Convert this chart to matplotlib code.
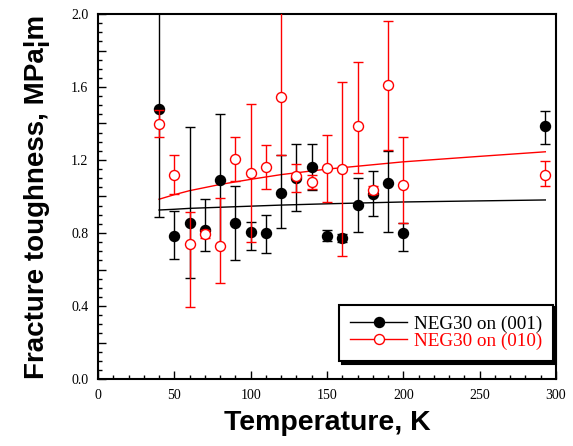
import matplotlib
matplotlib.use("Agg")
import matplotlib.pyplot as plt
from matplotlib.ticker import MultipleLocator, FuncFormatter

# ---- data ----
T_001 = [40, 50, 60, 70, 80, 90, 100, 110, 120, 130, 140, 150, 160, 170, 180, 190, 200, 293]
K_001 = [1.48, 0.785, 0.856, 0.815, 1.09, 0.857, 0.806, 0.798, 1.02, 1.10, 1.16, 0.785, 0.772,
         0.955, 1.014, 1.074, 0.80, 1.386]
K_001_lo = [0.59, 0.13, 0.30, 0.115, 0.36, 0.205, 0.10, 0.108, 0.19, 0.18, 0.125, 0.03, 0.02,
            0.148, 0.12, 0.27, 0.10, 0.10]
K_001_hi = [0.59, 0.137, 0.527, 0.17, 0.36, 0.20, 0.056, 0.10, 0.207, 0.19, 0.13, 0.03, 0.02,
            0.147, 0.126, 0.176, 0.053, 0.085]

T_010 = [40, 50, 60, 70, 80, 90, 100, 110, 120, 130, 140, 150, 160, 170, 180, 190, 200, 293]
K_010 = [1.40, 1.12, 0.741, 0.795, 0.73, 1.207, 1.127, 1.163, 1.545, 1.11, 1.077, 1.155, 1.15,
         1.385, 1.036, 1.61, 1.063, 1.118]
K_010_lo = [0.075, 0.108, 0.347, 0.02, 0.206, 0.12, 0.375, 0.12, 0.32, 0.084, 0.037, 0.185, 0.476,
            0.255, 0.02, 0.355, 0.21, 0.06]
K_010_hi = [0.075, 0.107, 0.175, 0.02, 0.26, 0.12, 0.38, 0.117, 0.6, 0.07, 0.043, 0.184, 0.48,
            0.352, 0.02, 0.353, 0.264, 0.078]

fit_T = [40, 50, 60, 80, 100, 120, 150, 200, 250, 293]
fit_001 = [0.926, 0.930, 0.935, 0.941, 0.947, 0.953, 0.960, 0.970, 0.976, 0.981]
fit_010 = [0.985, 1.010, 1.032, 1.066, 1.094, 1.12, 1.15, 1.19, 1.22, 1.245]

labels = ["NEG30 on (001)", "NEG30 on (010)"]
xlabel = "Temperature, K"
ylabel = "Fracture toughness, MPa\u00a6m"

# ---- figure ----
fig = plt.figure(figsize=(5.73, 4.46), dpi=100)
ax = fig.add_axes([98 / 573, 1 - 379 / 446, 458 / 573, 365 / 446])

serif = "Liberation Serif"
sans = "Liberation Sans"

ax.plot(fit_T, fit_001, color="black", lw=1.0, zorder=2)
ax.plot(fit_T, fit_010, color="red", lw=1.0, zorder=2)

ms = 7.2
ax.errorbar(T_001, K_001, yerr=[K_001_lo, K_001_hi], fmt="o", color="black",
            ecolor="black", elinewidth=1.0, capsize=3.6, capthick=1.0,
            markersize=ms, markerfacecolor="black", markeredgecolor="black", zorder=3)
ax.errorbar(T_010, K_010, yerr=[K_010_lo, K_010_hi], fmt="o", color="red",
            ecolor="red", elinewidth=1.0, capsize=3.6, capthick=1.0,
            markersize=ms, markerfacecolor="white", markeredgecolor="red",
            markeredgewidth=1.0, zorder=4)

# legend proxies
h1, = ax.plot([], [], color="black", lw=1.0, marker="o", markersize=ms,
              markerfacecolor="black", markeredgecolor="black")
h2, = ax.plot([], [], color="red", lw=1.0, marker="o", markersize=ms,
              markerfacecolor="white", markeredgecolor="red")
leg = ax.legend([h1, h2], labels, loc="lower right", bbox_to_anchor=(0.993, 0.05),
                borderaxespad=0, prop={"family": serif, "size": 13.8},
                frameon=True, fancybox=False, shadow={"color": "black", "alpha": 1},
                framealpha=1, edgecolor="black", handlelength=3.0, handletextpad=0.35,
                labelspacing=0.0, borderpad=0.55)
leg.get_frame().set_linewidth(1.5)
for txt, c in zip(leg.get_texts(), ["black", "red"]):
    txt.set_color(c)

ax.set_xlim(0, 300)
ax.set_ylim(0, 2.0)
ax.xaxis.set_major_locator(MultipleLocator(50))
ax.xaxis.set_minor_locator(MultipleLocator(10))
ax.yaxis.set_major_locator(MultipleLocator(0.2))
ax.yaxis.set_minor_locator(MultipleLocator(0.05))


def yfmt(v, pos):
    k = round(v / 0.2)
    return f"{v:.1f}" if k % 2 == 0 else ""


ax.yaxis.set_major_formatter(FuncFormatter(yfmt))
ax.xaxis.set_major_formatter(FuncFormatter(lambda v, p: f"{int(round(v))}"))

ax.tick_params(which="both", direction="in", top=False, right=False)
ax.tick_params(which="major", length=6, width=1.0, pad=7)
ax.tick_params(which="minor", length=3, width=1.0)
for lab in ax.get_xticklabels() + ax.get_yticklabels():
    lab.set_fontfamily(serif)
    lab.set_fontsize(10)

for s in ax.spines.values():
    s.set_linewidth(1.5)

ax.set_xlabel(xlabel, fontfamily=sans, fontweight="bold", fontsize=20.5, labelpad=6)
ax.set_ylabel(ylabel, fontfamily=sans, fontweight="bold", fontsize=20, labelpad=15)

fig.savefig("out.png", dpi=100)
